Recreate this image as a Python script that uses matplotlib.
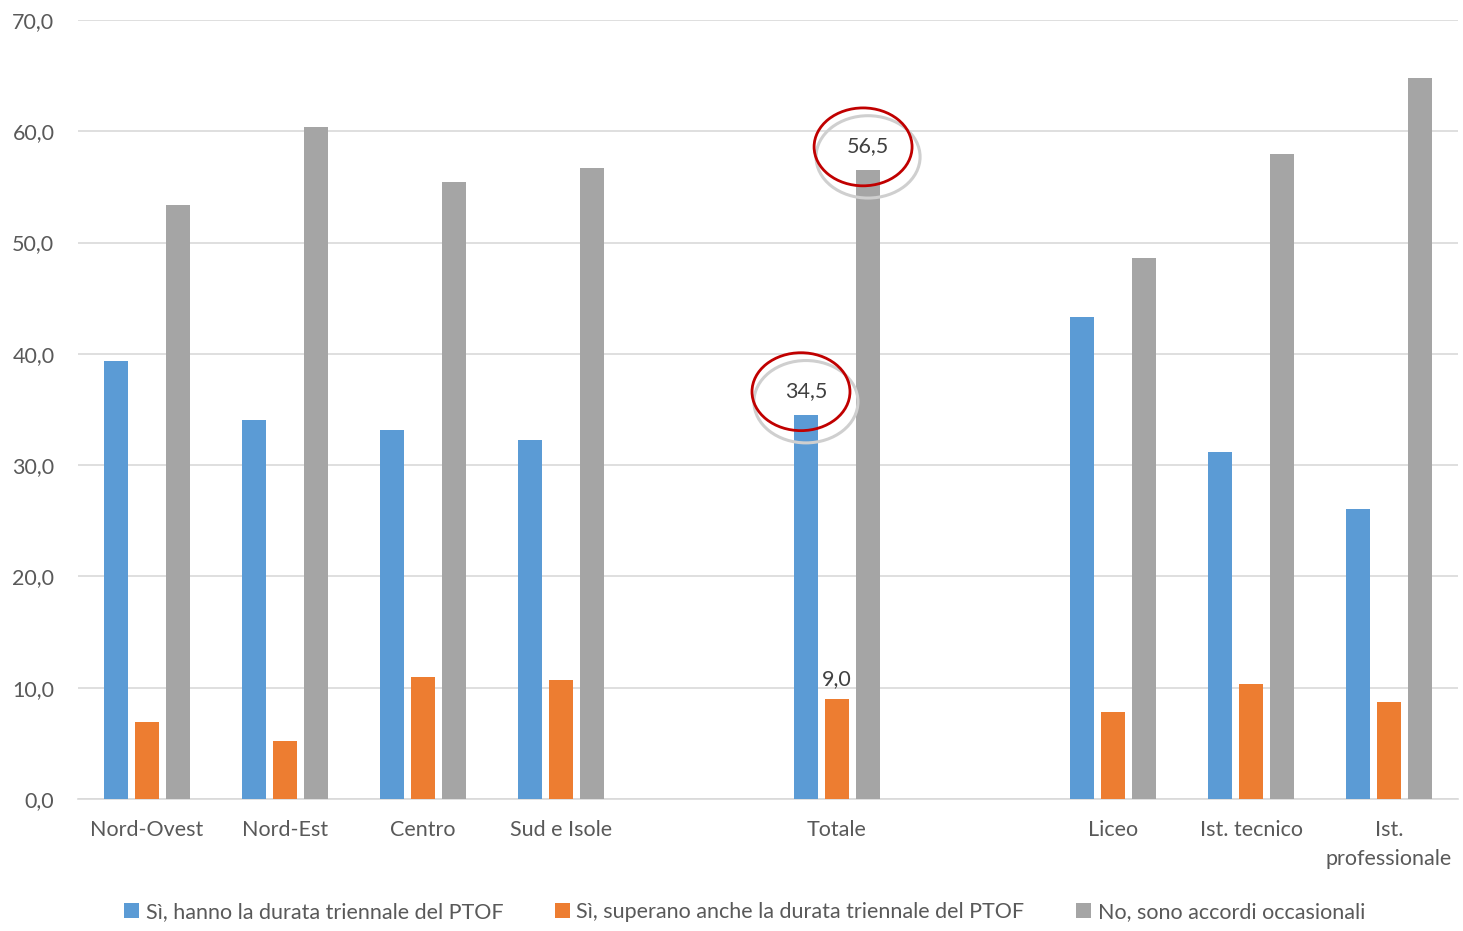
import matplotlib
matplotlib.use("Agg")
import matplotlib.pyplot as plt
from matplotlib.patches import Ellipse
import numpy as np

categorie = ["Nord-Ovest", "Nord-Est", "Centro", "Sud e Isole", "", "Totale", "",
             "Liceo", "Ist. tecnico", "Ist.\nprofessionale"]
triennale = [39.4, 34.1, 33.2, 32.3, None, 34.5, None, 43.3, 31.2, 26.1]
oltre = [6.9, 5.2, 11.0, 10.7, None, 9.0, None, 7.8, 10.3, 8.7]
occasionali = [53.4, 60.4, 55.4, 56.7, None, 56.5, None, 48.6, 58.0, 64.8]
serie = ["Sì, hanno la durata triennale del PTOF",
         "Sì, superano anche la durata triennale del PTOF",
         "No, sono accordi occasionali"]
colori = ["#5B9BD5", "#ED7D31", "#A5A5A5"]

plt.rcParams["font.family"] = ["Lato", "DejaVu Sans"]
testo = "#595959"
fs = 15.5

fig = plt.figure(figsize=(14.63, 9.31), dpi=100)
ax = fig.add_axes([78 / 1463, 132 / 931, 1380 / 1463, 779 / 931])

x = np.arange(len(categorie))
w = 0.174
passo = 0.225
for i, (vals, col, nome) in enumerate(zip([triennale, oltre, occasionali], colori, serie)):
    xs = [xi + (i - 1) * passo for xi, v in zip(x, vals) if v is not None]
    ys = [v for v in vals if v is not None]
    ax.bar(xs, ys, width=w, color=col, label=nome, zorder=3)

# etichette sul Totale
t = categorie.index("Totale")
ax.text(t - passo, triennale[t] + 1.3, "34,5", ha="center", va="bottom", fontsize=fs, color="#404040", zorder=5)
ax.text(t, oltre[t] + 0.9, "9,0", ha="center", va="bottom", fontsize=fs, color="#404040", zorder=5)
ax.text(t + passo, occasionali[t] + 1.3, "56,5", ha="center", va="bottom", fontsize=fs, color="#404040", zorder=5)

# cerchi di evidenziazione
for xc, yc in [(t - passo, triennale[t]), (t + passo, occasionali[t])]:
    ax.add_patch(Ellipse((xc, yc + 1.2), 0.754, 7.4, fill=False, ec="#CFCFCF", lw=2.2, zorder=4))
    ax.add_patch(Ellipse((xc - 0.036, yc + 2.1), 0.71, 7.0, fill=False, ec="#C00000", lw=2.0, zorder=4))

ax.set_xlim(-0.5, len(categorie) - 0.5)
ax.set_ylim(0, 70)
ax.set_yticks(np.arange(0, 71, 10))
ax.set_yticklabels([f"{v:.1f}".replace(".", ",") for v in np.arange(0, 71, 10)])
ax.set_xticks(x)
ax.set_xticklabels(categorie, linespacing=1.55)
ax.grid(axis="y", color="#D9D9D9", lw=1.2, zorder=0)
for s in ["top", "right", "left"]:
    ax.spines[s].set_visible(False)
ax.spines["bottom"].set_color("#D9D9D9")
ax.spines["bottom"].set_linewidth(1.2)
ax.tick_params(axis="both", length=0, labelsize=fs, colors=testo)
ax.tick_params(axis="x", pad=15)
ax.tick_params(axis="y", pad=17)

leg = fig.legend(loc="center", bbox_to_anchor=(0.509, 0.02), ncol=3, frameon=False,
                 fontsize=fs, handlelength=0.7, handleheight=0.7, handletextpad=0.3,
                 columnspacing=2.4, labelcolor=testo)

fig.savefig("out.png", dpi=100)
